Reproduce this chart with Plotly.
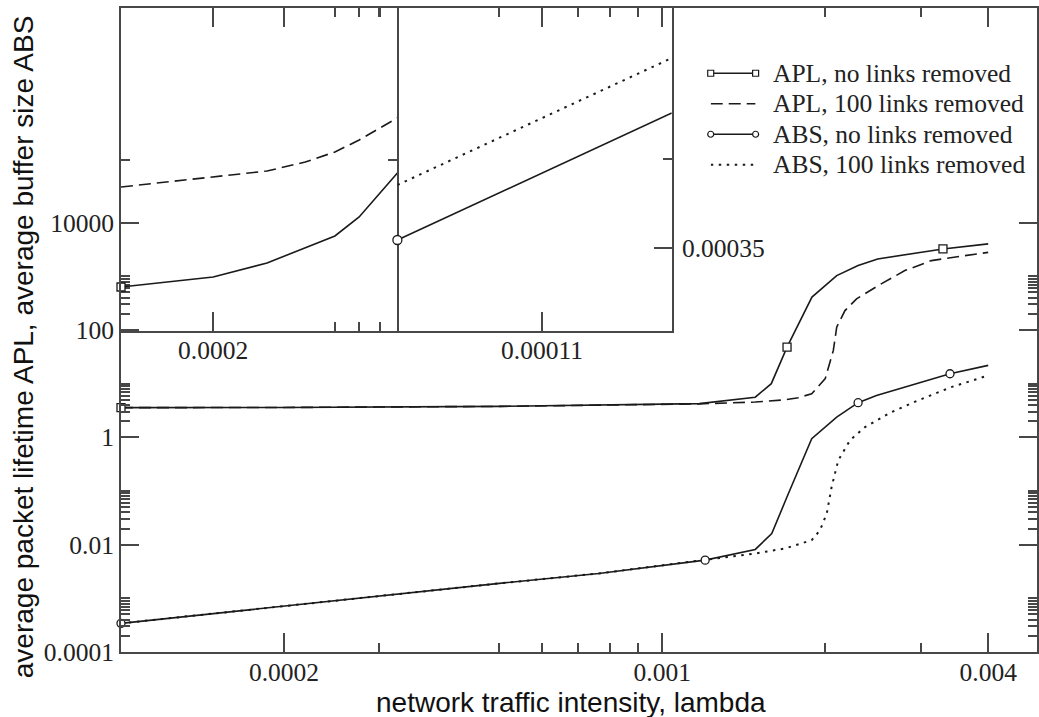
import math
import plotly.graph_objects as go

# ---------------- data ----------------
# main panel: network traffic intensity (lambda) vs APL / ABS
apl_no_x = [1e-4, 2e-4, 5e-4, 7.6e-4, 1.17e-3, 1.485e-3, 1.59e-3, 1.7e-3, 1.89e-3,
            2.1e-3, 2.3e-3, 2.5e-3, 3.3e-3, 4e-3]
apl_no_y = [3.57, 3.6, 3.77, 3.94, 4.24, 5.6, 10, 48, 410, 1030, 1585, 2110, 3240, 4020]
apl_no_marked = [0, 7, 12]

apl_100_x = [1e-4, 2e-4, 5e-4, 7.6e-4, 1.17e-3, 1.485e-3, 1.686e-3, 1.784e-3, 1.888e-3,
             2.0e-3, 2.07e-3, 2.1e-3, 2.175e-3, 2.285e-3, 2.506e-3, 2.806e-3, 3.141e-3,
             3.62e-3, 4e-3]
apl_100_y = [3.57, 3.6, 3.77, 3.94, 4.2, 4.54, 5.0, 5.48, 6.5, 12.4, 41.6, 113, 230, 381,
             673, 1280, 1963, 2432, 2800]

abs_no_x = [1e-4, 2e-4, 5e-4, 7.63e-4, 1.2e-3, 1.485e-3, 1.593e-3, 1.71e-3, 1.888e-3,
            2.1e-3, 2.3e-3, 2.487e-3, 3.4e-3, 4e-3]
abs_no_y = [3.42e-4, 7.2e-4, 1.9e-3, 2.91e-3, 5.15e-3, 8.15e-3, 0.0161, 0.0898, 0.946,
            2.39, 4.42, 6.04, 15.3, 21.9]
abs_no_marked = [0, 4, 10, 12]

abs_100_x = [1e-4, 2e-4, 5e-4, 7.63e-4, 1.2e-3, 1.485e-3, 1.686e-3, 1.888e-3, 1.956e-3,
             2.013e-3, 2.055e-3, 2.114e-3, 2.222e-3, 2.368e-3, 2.65e-3, 2.969e-3, 3.42e-3,
             4e-3]
abs_100_y = [3.42e-4, 7.2e-4, 1.9e-3, 2.91e-3, 5.15e-3, 6.85e-3, 8.5e-3, 0.0121, 0.0186,
             0.038, 0.119, 0.373, 0.88, 1.55, 2.95, 4.88, 8.63, 14.2]

# inset, left panel (APL)
inset_l_x = [1e-4, 2e-4, 3e-4, 4e-4, 5e-4, 6e-4, 7e-4, 8e-4]
inset_apl_no_y = [657, 1007, 1833, 3484, 5821, 13120, 35100, 86100]
inset_apl_100_y = [47300, 72600, 93800, 137800, 211500, 353000, 590000, 906000]
# inset, right panel (ABS)
inset_r_x = [1e-4, 1.1897e-4]
inset_abs_no_y = [3.545e-4, 4.258e-4]
inset_abs_100_y = [3.854e-4, 4.567e-4]

# ticks
x_major = [2e-4, 1e-3, 4e-3]
x_major_text = ["0.0002", "0.001", "0.004"]
x_minor = [3e-4, 5e-4, 6e-4, 7e-4, 8e-4, 9e-4, 2e-3, 3e-3]
y_major = [1e-4, 1e-2, 1, 1e2, 1e4]
y_major_text = ["0.0001", "0.01", "1", "100", "10000"]
y_minor = [k * 10.0 ** e for e in (-4, -2, 0, 2) for k in range(2, 11)]

legend_labels = ["APL, no links removed", "APL, 100 links removed",
                 "ABS, no links removed", "ABS, 100 links removed"]
legend_rows = [1, 2, 3, 4]

x_title = "network traffic intensity, lambda"
y_title = "average packet lifetime APL, average buffer size ABS"

# ---------------- layout helpers ----------------
W, H = 1039, 717
PL, PR, PT, PB = 121, 1039, 8, 652


def fx(p):
    return (p - PL) / (PR - PL)


def fy(p):
    return (PB - p) / (PB - PT)


INK = "#1a1a1a"
AX = "#474747"
SERIF = "Liberation Serif, Times New Roman, serif"
SANS = "Liberation Sans, Arial, sans-serif"
tickfont = dict(family=SERIF, size=25.5, color="#222")
LW = 1.6
DASH = "12px,6px"
DOT = "2.5px,5.5px"

fig = go.Figure()


def line(x, y, dash, xa="x", ya="y", width=LW):
    fig.add_trace(go.Scatter(x=x, y=y, mode="lines", xaxis=xa, yaxis=ya,
                             line=dict(color=INK, width=width, dash=dash),
                             showlegend=False, hoverinfo="skip"))


def marks(x, y, symbol, xa="x", ya="y", size=8):
    fig.add_trace(go.Scatter(x=x, y=y, mode="markers", xaxis=xa, yaxis=ya,
                             marker=dict(symbol=symbol, size=size, color="white",
                                         line=dict(color=INK, width=1.3)),
                             showlegend=False, hoverinfo="skip", cliponaxis=False))


# main curves
line(apl_no_x, apl_no_y, "solid")
line(apl_100_x, apl_100_y, DASH)
line(abs_no_x, abs_no_y, "solid")
line(abs_100_x, abs_100_y, DOT, width=2)
marks([apl_no_x[i] for i in apl_no_marked], [apl_no_y[i] for i in apl_no_marked], "square")
marks([abs_no_x[i] for i in abs_no_marked], [abs_no_y[i] for i in abs_no_marked], "circle")

# inset curves
line(inset_l_x, inset_apl_100_y, DASH, "x2", "y2")
line(inset_l_x, inset_apl_no_y, "solid", "x2", "y2")
marks(inset_l_x[:1], inset_apl_no_y[:1], "square", "x2", "y2")
line(inset_r_x, inset_abs_100_y, DOT, "x3", "y3", width=2)
line(inset_r_x, inset_abs_no_y, "solid", "x3", "y3")
marks(inset_r_x[:1], inset_abs_no_y[:1], "circle", "x3", "y3", size=9)

# legend samples (own hidden axes)
legend_styles = [("solid", "square"), (DASH, None), ("solid", "circle"), (DOT, None)]
for row, (dash, sym) in zip(legend_rows, legend_styles):
    fig.add_trace(go.Scatter(
        x=[0, 1], y=[row, row], xaxis="x4", yaxis="y4",
        mode="lines+markers" if sym else "lines",
        line=dict(color=INK, width=1.5 if dash != DOT else 2, dash=dash),
        marker=dict(symbol=sym or "circle", size=6, color="white",
                    line=dict(color=INK, width=1.2)),
        showlegend=False, hoverinfo="skip", cliponaxis=False))

annotations = []
for row, lab in zip(legend_rows, legend_labels):
    annotations.append(dict(text=lab, xref="paper", yref="y4", x=fx(772), y=row,
                            xanchor="left", yanchor="middle", showarrow=False,
                            font=dict(family=SERIF, size=25.5, color="#222")))
annotations.append(dict(text=x_title, xref="paper", yref="paper", x=fx(572), y=fy(702),
                        xanchor="center", yanchor="middle", showarrow=False,
                        font=dict(family=SANS, size=28, color="#111")))
annotations.append(dict(text=y_title, xref="paper", yref="paper", x=fx(23), y=fy(347),
                        xanchor="center", yanchor="middle", showarrow=False, textangle=-90,
                        font=dict(family=SANS, size=28, color="#111")))

common = dict(showgrid=False, zeroline=False, showline=True, linecolor=AX, linewidth=2,
              ticks="inside", tickcolor=AX, tickwidth=1.6, tickfont=tickfont)


def minor(vals):
    return dict(tickvals=vals, ticks="inside", ticklen=9, tickwidth=1.6, tickcolor=AX,
                showgrid=False)


fig.update_layout(
    width=W, height=H,
    margin=dict(l=PL, r=W - PR, t=PT, b=H - PB, pad=0),
    paper_bgcolor="white", plot_bgcolor="rgba(0,0,0,0)",
    showlegend=False,
    annotations=annotations,
    xaxis=dict(common, domain=[0, 1], anchor="y", type="log",
               range=[-4, math.log10(0.004923)], tickvals=x_major, ticktext=x_major_text,
               ticklen=19, mirror="allticks", minor=minor(x_minor), ticklabelstandoff=-4),
    yaxis=dict(common, domain=[0, 1], anchor="x", type="log", range=[-4, 8],
               tickvals=y_major, ticktext=y_major_text, ticklen=18, mirror="allticks",
               minor=minor(y_minor)),
    xaxis2=dict(common, domain=[0, fx(398)], anchor="y2", type="log",
                range=[-4, math.log10(8e-4)], tickvals=[2e-4], ticktext=["0.0002"],
                ticklen=19, mirror="allticks", minor=minor([5e-4, 6e-4, 7e-4]),
                ticklabelstandoff=-5),
    yaxis2=dict(common, domain=[fy(331), 1], anchor="x2", type="log", range=[2, 8],
                tickvals=[1.5e5], ticklen=9, showticklabels=False, mirror="allticks"),
    xaxis3=dict(common, domain=[fx(398), fx(673)], anchor="y3",
                range=[1e-4, 1.1897e-4], tickvals=[1.1e-4], ticktext=["0.00011"],
                ticklen=19, mirror="allticks", ticklabelstandoff=-5),
    yaxis3=dict(common, domain=[fy(331), 1], anchor="x3", side="right",
                range=[3.034e-4, 4.848e-4], tickvals=[3.5e-4], ticktext=["0.00035"],
                ticklen=18, mirror=False, minor=minor([4e-4]), ticklabelstandoff=3),
    xaxis4=dict(domain=[fx(712), fx(757)], anchor="y4", range=[0, 1], visible=False),
    yaxis4=dict(domain=[fy(180), fy(58)], anchor="x4", range=[4.5, 0.5], visible=False),
)

fig.write_html("out.html", config={"displayModeBar": False},
               post_script="document.body.style.margin='0px';"
                           "document.body.style.overflow='hidden';")
